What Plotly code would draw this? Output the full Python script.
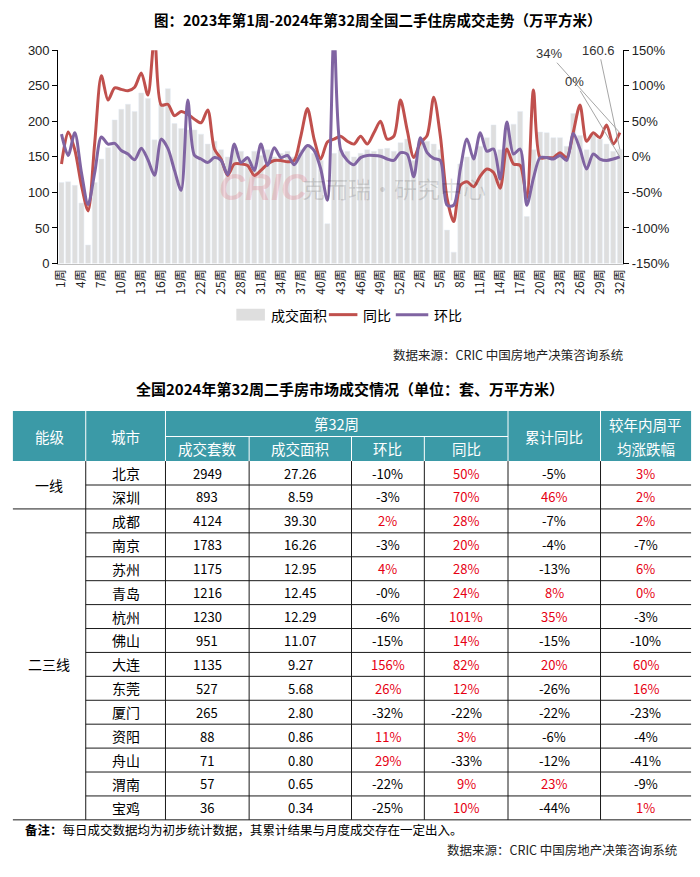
import plotly.graph_objects as go

W, H = 700, 877
def px(x): return x / W
def py(y): return 1 - y / H

CJK = "Noto Sans CJK SC"
LAT = "Liberation Sans, Arial"

# ---------------- chart data ----------------
weeks_2023 = list(range(1, 54))
weeks_2024 = list(range(1, 33))
categories = [f"2023年第{w}周" for w in weeks_2023] + [f"2024年第{w}周" for w in weeks_2024]
tick_labels = ["1周", "4周", "7周", "10周", "13周", "16周", "19周", "22周", "25周", "28周",
               "31周", "34周", "37周", "40周", "43周", "46周", "49周", "52周",
               "2周", "5周", "8周", "11周", "14周", "17周", "20周", "23周", "26周", "29周", "32周"]

area_values = [114, 115, 110, 85, 26, 114, 147, 163, 202, 217,
               224, 214, 240, 232, 174, 225, 246, 197, 190, 188,
               188, 182, 168, 172, 160, 150, 162, 158, 150, 158,
               152, 160, 150, 155, 158, 150, 160, 165, 155, 145,
               56, 155, 160, 158, 150, 155, 160, 158, 161, 162,
               158, 170, 175, 145, 170, 172, 168, 160, 47, 16,
               140, 150, 150, 165, 177, 195, 160, 190, 196, 214,
               66, 160, 185, 184, 177, 177, 165, 211, 180, 160,
               181, 175, 168, 158, 160.6]

yoy_values = [-10, 35, 10, -40, -76, 20, 114, 80, 97, 95,
              93, 98, 118, 87, 170, 73, 74, 58, 64, 60,
              53, 48, 66, 11, -3, -26, -10, -10, -12, -26,
              -19, -10, -5, -5, -7, -5, 29, 68, 25, -3,
              21, 25, 29, 22, 18, 29, 18, 34, 50, 25,
              29, 80, 38, -1, 20, 30, 84, 29, -58, -91,
              -40, -35, -42, -27, -17, -22, -44, 11, -10, -12,
              -58, 94, -1, -1, -1, 6, -1, 35, 73, 22,
              34, 27, 45, 18, 34]

mom_values = [32, 2, 34, -22, -67, -22, 28, 18, 19, 9,
              4, -4, 12, -4, -26, 25, 12, -19, -47, 80,
              2, -3, -8, -1, -5, -25, 18, -8, -1, -19,
              18, -12, 13, -1, 2, -11, 4, 16, 9, -17,
              -61, 175, 10, -5, -11, -1, 2, 2, 1, -3,
              -5, 6, 4, -28, 27, 6, -2, -5, -68, -68,
              -17, 25, -3, 34, 8, 11, -31, 49, 4, 11,
              -68, -30, -1, -1, -3, 2, -5, 33, 11, -17,
              4, -3, -5, -3, 0]

left_ticks = [0, 50, 100, 150, 200, 250, 300]
right_ticks = [-150, -100, -50, 0, 50, 100, 150]
right_tick_text = ["-150%", "-100%", "-50%", "0%", "50%", "100%", "150%"]

# ---------------- table data ----------------
tiers = ["一线", "二三线"]
tier_counts = [2, 13]
cities = ["北京", "深圳", "成都", "南京", "苏州", "青岛", "杭州", "佛山", "大连", "东莞",
          "厦门", "资阳", "舟山", "渭南", "宝鸡"]
deal_units = ["2949", "893", "4124", "1783", "1175", "1216", "1230", "951", "1135", "527",
              "265", "88", "71", "57", "36"]
deal_area = ["27.26", "8.59", "39.30", "16.26", "12.95", "12.45", "12.29", "11.07", "9.27", "5.68",
             "2.80", "0.86", "0.80", "0.65", "0.34"]
mom_pct = ["-10%", "-3%", "2%", "-3%", "4%", "-0%", "-6%", "-15%", "156%", "26%",
           "-32%", "11%", "29%", "-22%", "-25%"]
yoy_pct = ["50%", "70%", "28%", "20%", "28%", "24%", "101%", "14%", "82%", "12%",
           "-22%", "3%", "-33%", "9%", "10%"]
cum_pct = ["-5%", "46%", "-7%", "-4%", "-13%", "8%", "35%", "-15%", "20%", "-26%",
           "-22%", "-6%", "-12%", "23%", "-44%"]
avg_pct = ["3%", "2%", "2%", "-7%", "6%", "0%", "-3%", "-10%", "60%", "16%",
           "-23%", "-4%", "-41%", "-9%", "1%"]

RED = "#c0504d"
PURPLE = "#8064a2"
BAR = "#dedede"

fig = go.Figure()
fig.add_trace(go.Bar(x=categories, y=area_values, name="成交面积", marker_color=BAR,
                     showlegend=False))
fig.add_trace(go.Scatter(x=categories, y=yoy_values, name="同比", yaxis="y2", mode="lines",
                         line=dict(color=RED, width=3, shape="spline", smoothing=0.8),
                         showlegend=False))
fig.add_trace(go.Scatter(x=categories, y=mom_values, name="环比", yaxis="y2", mode="lines",
                         line=dict(color=PURPLE, width=3, shape="spline", smoothing=0.8),
                         showlegend=False))

shapes = []
ann = []

def text(x, y, s, size=13, color="#000", anchor="center", family=CJK, bold=False):
    if bold:
        s = f"<b>{s}</b>"
    ann.append(dict(xref="paper", yref="paper", x=px(x), y=py(y), text=s, showarrow=False,
                    xanchor=anchor, yanchor="middle", font=dict(size=size, color=color, family=family)))

def line(x0, y0, x1, y1, color="#1a1a1a", width=1):
    shapes.append(dict(type="line", xref="paper", yref="paper", x0=px(x0), y0=py(y0),
                       x1=px(x1), y1=py(y1), line=dict(color=color, width=width)))

# titles
text(147, 13, "图：2023年第1周-2024年第32周全国二手住房成交走势（万平方米）", size=14.5, anchor="left", bold=True)

# watermark
text(213, 184, "<b><i>CRIC</i></b>", size=36, color="rgba(225,90,110,0.22)", family=LAT, anchor="left")
text(298, 184, "克而瑞·研究中心", size=23, color="rgba(0,0,0,0.13)", anchor="left")

# end-point labels
last = categories[-1]
ann.append(dict(x=last, y=yoy_values[-1], xref="x", yref="y2", text="34%", showarrow=True,
                arrowhead=0, arrowwidth=1, arrowcolor="#a6a6a6", ax=-71, ay=-79,
                font=dict(size=13, family=LAT, color="#333")))
ann.append(dict(x=last, y=mom_values[-1], xref="x", yref="y2", text="0%", showarrow=True,
                arrowhead=0, arrowwidth=1, arrowcolor="#a6a6a6", ax=-45, ay=-75,
                font=dict(size=13, family=LAT, color="#333")))
ann.append(dict(x=last, y=area_values[-1], xref="x", yref="y", text="160.6", showarrow=True,
                arrowhead=0, arrowwidth=1, arrowcolor="#a6a6a6", ax=-21, ay=-99,
                font=dict(size=13, family=LAT, color="#333")))

# custom legend
shapes.append(dict(type="rect", xref="paper", yref="paper", x0=px(233), x1=px(262),
                   y0=py(319), y1=py(307), fillcolor=BAR, line_width=0))
text(266, 313, "成交面积", size=14, anchor="left")
line(327, 313, 356, 313, RED, 3)
text(360, 313, "同比", size=14, anchor="left")
line(395, 313, 428, 313, PURPLE, 3)
text(432, 313, "环比", size=14, anchor="left")

text(628, 354, "数据来源：CRIC 中国房地产决策咨询系统", size=12.5, anchor="right", color="#222")

# ---------------- table ----------------
text(348, 388, "全国2024年第32周二手房市场成交情况（单位：套、万平方米）", size=15, bold=True)

col_x = [6, 80, 161, 246, 350, 424, 509, 603, 695]
HT, HM, HB = 411, 437, 462
TB = 827
n_rows = len(cities)
RH = (TB - HB) / n_rows
TEAL = "#3b9aa7"

shapes.append(dict(type="rect", xref="paper", yref="paper", x0=px(col_x[0]), x1=px(col_x[-1]),
                   y0=py(HB), y1=py(HT), fillcolor=TEAL, line_width=0))
for i in (1, 2, 6, 7):
    line(col_x[i], HT, col_x[i], HB, "white", 1)
for i in (3, 4, 5):
    line(col_x[i], HM, col_x[i], HB, "white", 1)
line(col_x[2], HM, col_x[6], HM, "white", 1)

def cx(i):
    return (col_x[i] + col_x[i + 1]) / 2

hdr = dict(size=14.5, color="white")
text(cx(0), (HT + HB) / 2, "能级", **hdr)
text(cx(1), (HT + HB) / 2, "城市", **hdr)
text((col_x[2] + col_x[6]) / 2, (HT + HM) / 2, "第32周", **hdr)
for i, s in zip((2, 3, 4, 5), ("成交套数", "成交面积", "环比", "同比")):
    text(cx(i), (HM + HB) / 2, s, **hdr)
text(cx(6), (HT + HB) / 2, "累计同比", **hdr)
text(cx(7), (HT + HM) / 2 + 1, "较年内周平", **hdr)
text(cx(7), (HM + HB) / 2, "均涨跌幅", **hdr)

# body
for i in range(1, 8):
    line(col_x[i], HB, col_x[i], TB)
tier_bounds = []
acc = 0
for c in tier_counts:
    acc += c
    tier_bounds.append(acc)
for r in range(1, n_rows + 1):
    yb = HB + r * RH
    if r in tier_bounds:
        line(col_x[0], yb, col_x[-1], yb)
    else:
        line(col_x[1], yb, col_x[-1], yb)

start = 0
for t, c in zip(tiers, tier_counts):
    text(cx(0), HB + (start + c / 2) * RH, t, size=14)
    start += c

RED_T = "#e60012"
def pct_color(s):
    return "#000" if s.startswith("-") else RED_T

for r in range(n_rows):
    yc = HB + (r + 0.5) * RH
    text(cx(1), yc, cities[r], size=14)
    text(cx(2), yc, deal_units[r], size=13)
    text(cx(3), yc, deal_area[r], size=13)
    text(cx(4), yc, mom_pct[r], size=13, color=pct_color(mom_pct[r]))
    text(cx(5), yc, yoy_pct[r], size=13, color=pct_color(yoy_pct[r]))
    text(cx(6), yc, cum_pct[r], size=13, color=pct_color(cum_pct[r]))
    text(cx(7), yc, avg_pct[r], size=13, color=pct_color(avg_pct[r]))

text(16, 837, "<b>备注：</b>每日成交数据均为初步统计数据，其累计结果与月度成交存在一定出入。", size=12.5, anchor="left")
text(683, 857, "数据来源：CRIC 中国房地产决策咨询系统", size=12.5, anchor="right", color="#222")

fig.update_layout(
    width=W, height=877, autosize=False,
    margin=dict(l=0, r=0, t=0, b=0),
    paper_bgcolor="white", plot_bgcolor="white",
    bargap=0.25, showlegend=False,
    xaxis=dict(domain=[px(52), px(626)], type="category", categoryorder="array",
               categoryarray=categories, tickmode="array", tickvals=categories[::3],
               ticktext=tick_labels, tickangle=-90, tickfont=dict(size=12, family=CJK, color="#222"),
               showline=True, linecolor="#bfbfbf", linewidth=1, ticks="", showgrid=False,
               zeroline=False, anchor="y"),
    yaxis=dict(domain=[py(261), py(44)], range=[0, 300], tickmode="array", tickvals=left_ticks,
               showline=True, linecolor="#000", linewidth=1, ticks="outside", ticklen=5,
               tickcolor="#000", showgrid=False, zeroline=False,
               tickfont=dict(size=13, family=LAT, color="#222")),
    yaxis2=dict(overlaying="y", side="right", anchor="x", range=[-150, 150], tickmode="array",
                tickvals=right_ticks, ticktext=right_tick_text, showline=True, linecolor="#000",
                linewidth=1, ticks="outside", ticklen=5, tickcolor="#000", showgrid=False,
                zeroline=False, tickfont=dict(size=13, family=LAT, color="#222")),
    shapes=shapes, annotations=ann,
)

fig.write_html("out.html", config={"displayModeBar": False},
               post_script="document.body.style.margin='0';document.body.style.overflow='hidden';")
